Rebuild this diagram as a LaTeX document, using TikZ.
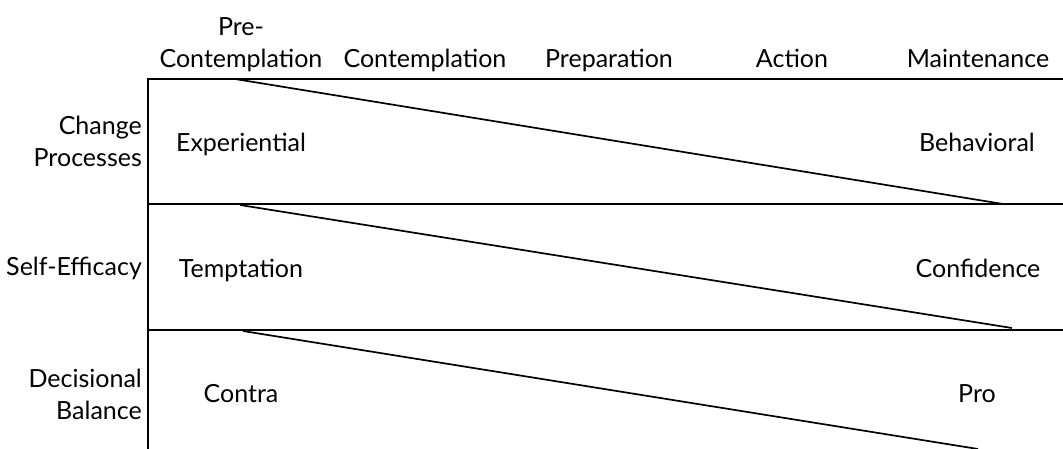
\documentclass[tikz,border=0pt]{standalone}
\usepackage{fontspec}
\setmainfont{Lato}
\usetikzlibrary{positioning}

\begin{document}
\begin{tikzpicture}[x=1pt, y=-1pt,
	lbl/.style={font=\fontsize{25}{32}\selectfont, inner sep=0pt, anchor=base},
	rowlbl/.style={lbl, align=right, anchor=base east},
	frame/.style={line width=2.2pt},
	slope/.style={line width=1.7pt}]

	\useasboundingbox (0,0) rectangle (1063,449);

	% stage headers
	\node[lbl, align=center] (stage0) at (241,68) {Pre-\\Contemplation};
	\foreach \name/\x [count=\i] in {Contemplation/425, Preparation/609, Action/792, Maintenance/978}
	{
		\node[lbl] (stage\i) at (\x,68) {\name};
	}

	% row labels
	\node[rowlbl] (change) at (142,167) {Change\\Processes};
	\node[rowlbl] (efficacy) at (142,276) {Self-Efficacy};
	\node[rowlbl] (balance) at (142,419) {Decisional\\Balance};

	% grid
	\foreach \y in {79, 204, 330} {
		\draw[frame] (148,\y) -- (1063,\y);
	}
	\draw[frame] (148,78) -- (148,449);

	% end points of the slopes
	\coordinate (a1) at (235,79);  \coordinate (b1) at (1003,204);
	\coordinate (a2) at (240,205); \coordinate (b2) at (1012,328);
	\coordinate (a3) at (243,331); \coordinate (b3) at (978,449);

	\foreach \i in {1,2,3} {
		\draw[slope] (a\i) -- (b\i);
	}

	% poles of each row
	\node[lbl] (exp) at (241,152) {Experiential};
	\node[lbl] (beh) at (977,152) {Behavioral};
	\node[lbl] (tempt) at (241,277) {Temptation};
	\node[lbl] (conf) at (978,277) {Confidence};
	\node[lbl] (contra) at (241,402) {Contra};
	\node[lbl] (pro) at (977,402) {Pro};

\end{tikzpicture}
\end{document}
